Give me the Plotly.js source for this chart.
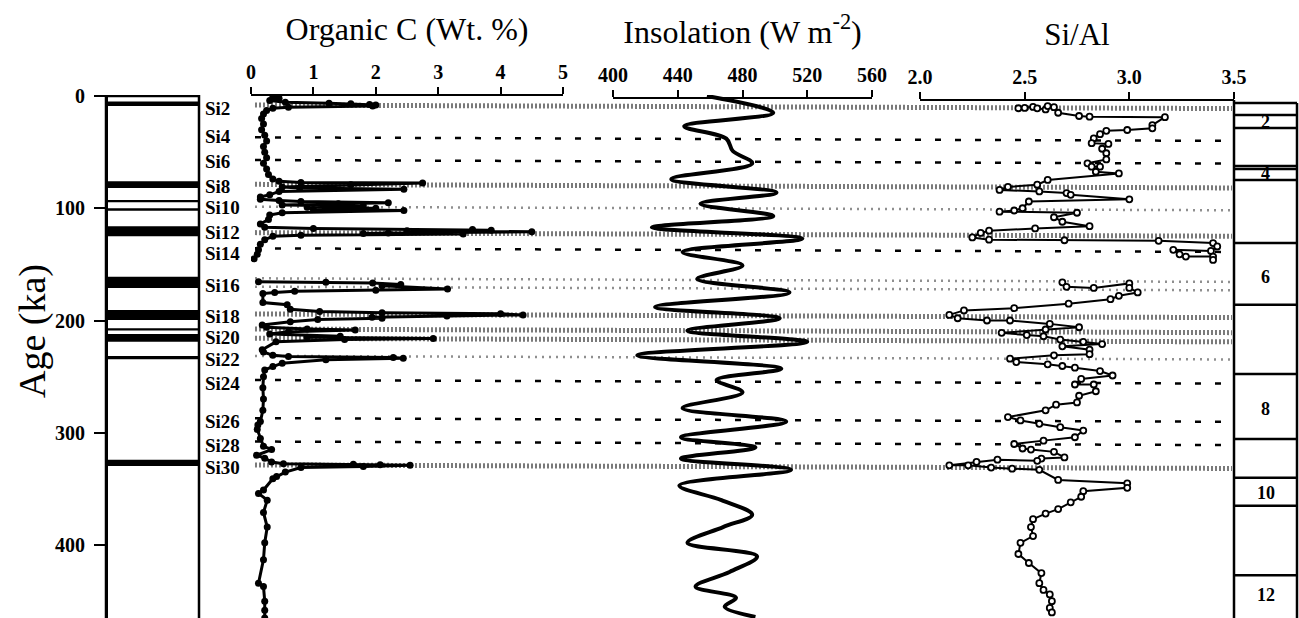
<!DOCTYPE html>
<html>
<head>
<meta charset="utf-8">
<script src="https://cdn.plot.ly/plotly-3.0.1.min.js"></script>
<style>html,body{margin:0;padding:0;background:#fff;}#chart{width:1299px;height:618px;}</style>
</head>
<body>
<div id="chart"></div>
<script>
// ---------------- DATA ----------------
// Organic carbon (Wt. %) vs age (ka); null = gap in record
const orgAge = [0,2,4,5.5,6.5,7,7.5,8,9,10,11,13,16,20,25,30,35,40,45,50,55,60,65,70,74,
  76,77,77.5,79,81,82,83,85,88,90,
  92,93,94,95,96,97,98,99,100,101,102,104,106,110,114,
  117,118,119,119.5,120,121,122,122.5,123,124,125,128,132,137,141,145,null,
  165.5,166,166.5,168,169,172,173,174,175,176,184,186,190,
  192,193,194,195,196,197,198,199,201,204,
  206,207.5,208.5,210,212,214,215,216,217,219,226,228,
  231,232,233,233.6,235,238,241,244,250,260,270,280,290,293,297,305,312,315,320,322.6,326,
  327.5,328,328.5,329,330,331,335,339,341,351,354,360,371,384,398,413,434,437,450,458,465];
const orgC = [0.35,0.45,0.3,0.55,1.25,1.6,1.9,2.0,1.95,0.6,0.35,0.25,0.2,0.17,0.2,0.17,0.22,0.25,0.2,0.22,0.25,0.2,0.25,0.28,0.35,
  0.45,0.8,2.75,1.6,0.5,0.78,2.45,0.45,0.3,0.15,
  0.15,0.45,0.8,2.2,1.4,0.5,1.8,0.9,2.0,1.0,2.45,0.5,0.3,0.28,0.15,
  0.22,1.0,3.55,3.85,2.5,4.5,2.2,1.8,3.4,0.8,0.35,0.22,0.15,0.12,0.1,0.05,null,
  0.12,1.2,1.95,2.4,2.1,3.15,2.0,0.7,0.38,0.19,0.19,0.58,0.63,
  1.1,2.1,4.0,4.36,3.14,1.94,2.1,1.07,0.63,0.18,
  0.25,0.9,1.67,0.6,0.3,1.43,0.9,2.92,1.5,0.4,0.18,0.2,
  0.35,0.6,2.28,2.44,1.2,0.5,0.35,0.22,0.2,0.19,0.2,0.19,0.15,0.11,0.1,0.15,0.2,0.33,0.09,0.22,0.33,
  0.52,1.64,2.07,2.55,1.8,0.8,0.55,0.41,0.35,0.2,0.12,0.26,0.2,0.26,0.22,0.2,0.12,0.2,0.22,0.22,0.22];

// Insolation (W m-2) vs age (ka)
const insAge = [0,15,27,38,49,60,74,86,96,107,117,127,139,151,163,175,188,198,209,219,231,243,253,264,278,290,304,313,323,333,347,360,373,384,398,410,424,437,447,455,464];
const insVal = [458,499,444,470,474,486,436,501,454,499,424,517,443,480,452,509,426,503,446,520,415,504,464,480,443,507,442,488,442,510,441,467,486,468,446,489,472,451,476,469,488];

// Si/Al ratio vs age (ka)
const siAge = [10.9,10.6,9.7,11,12,9,10,14.9,17.8,18.4,18.9,25.9,28.8,30.3,31,34,37.7,42,42.7,47,51,56.5,60,63,63,67.5,69,74.8,79,81,83.7,85,86.5,88,92,94,100,102,103,104,108,112,116,118,120,122,126,128,128.5,129,131,134,138,137,141,143,143,146,null,
  166,170,171,167,171,175,178,181,185,189,191,195,198,200,200,203,206,208,211,213,214,217,219,221,223,226,230,231,234,237,239,240.5,242,245,249,252,257,257,263,267,273,275,280,286,289,292,295,298,304,307,310,314,315,317,322,323,325,324,326,329,329,331,332,333,342,345,349,352,357,362,368,372,377,384,392,398,408,416,425,434,440,444,450,456,460];
const siAl = [2.47,2.50,2.54,2.56,2.60,2.61,2.64,2.66,2.76,2.81,3.17,3.11,3.11,2.99,2.89,2.86,2.83,2.82,2.90,2.87,2.89,2.89,2.80,2.82,2.86,2.84,2.95,2.61,2.56,2.42,2.38,2.57,2.70,2.72,3.00,2.52,2.49,2.45,2.38,2.75,2.64,2.68,2.81,2.55,2.33,2.29,2.25,2.33,2.69,3.14,3.40,3.42,3.39,3.21,3.24,3.27,3.40,3.40,null,
  2.68,2.70,2.83,3.00,3.00,3.04,2.95,2.91,2.71,2.45,2.21,2.14,2.18,2.32,2.43,2.62,2.76,2.60,2.39,2.51,2.59,2.67,2.78,2.87,2.68,2.81,2.81,2.64,2.43,2.46,2.61,2.68,2.74,2.86,2.92,2.77,2.74,2.83,2.84,2.76,2.75,2.65,2.60,2.42,2.48,2.57,2.67,2.78,2.74,2.59,2.45,2.49,2.53,2.64,2.69,2.58,2.56,2.37,2.27,2.14,2.23,2.34,2.44,2.57,2.66,2.99,2.99,2.78,2.77,2.72,2.66,2.60,2.54,2.53,2.54,2.48,2.47,2.52,2.58,2.57,2.59,2.62,2.63,2.62,2.63];

// Sapropel-like layers in the lithologic column (top, bottom in ka)
const bandTop = [5,76,92.6,100,116,161,190.6,207,212,231.6,324];
const bandBot = [9,82,94.7,102.2,125,171,199.5,209,219,234.5,329.6];

// Event labels
const siLabels = ["Si2","Si4","Si6","Si8","Si10","Si12","Si14","Si16","Si18","Si20","Si22","Si24","Si26","Si28","Si30"];
const siLabelAge = [10.7,36,58.5,81,99.5,122,140,168.4,196.6,215,235,256,290,311,331];

// Correlation (tie) lines: age at left end and style
const tieAge = [8,36.8,57,78.7,98.6,121.7,135.7,162.4,169.9,194.2,207.6,215.8,231.5,253,287,307.8,328.6];
const tieStyle = ["stip","dash","dash","stip","sparse","stip","dash","sparse","sparse","stip","stip","stip","sparse","dash","dash","dash","stip"];

// Marine isotope stage column
const misBounds = [6.2,16.9,28.5,62.4,65,74.8,131,186,247.6,305.5,340,365,427];
const misLabels = ["2","4","6","8","10","12"];
const misLabelAge = [22.9,68.8,161,279,354,444.5];

const ageTicks = [0,100,200,300,400];

// ---------------- LAYOUT HELPERS ----------------
const W = 1299;
const px = v => v / W;
const serif = "Liberation Serif, Times New Roman, serif";
const tickFont = {family: serif, size: 20, color: "#000", weight: "bold"};

const traces = [
  {x: orgC, y: orgAge, xaxis: "x", yaxis: "y", type: "scatter", mode: "lines+markers",
   connectgaps: false, line: {color: "#000", width: 3}, marker: {color: "#000", size: 7}, hoverinfo: "x+y"},
  {x: insVal, y: insAge, xaxis: "x2", yaxis: "y", type: "scatter", mode: "lines",
   line: {color: "#000", width: 4, shape: "spline", smoothing: 1.0}, hoverinfo: "x+y"},
  {x: siAl, y: siAge, xaxis: "x3", yaxis: "y", type: "scatter", mode: "lines+markers",
   connectgaps: false, line: {color: "#000", width: 2},
   marker: {color: "#fff", size: 6, symbol: "circle", line: {color: "#000", width: 1.8}}, hoverinfo: "x+y"}
];

const shapes = [];
// tie lines
const tieStyles = {
  stip: {color: "#7a7a7a", width: 5, dash: "2px,2px"},
  sparse: {color: "#8f8f8f", width: 2.5, dash: "2px,5px"},
  dash: {color: "#000", width: 2.5, dash: "6px,14px"}
};
tieAge.forEach((a, i) => {
  shapes.push({type: "line", xref: "paper", yref: "y", x0: px(255), x1: px(1232), y0: a, y1: a + 3.2,
    line: tieStyles[tieStyle[i]], layer: "below"});
});
// lithologic column
shapes.push({type: "rect", xref: "paper", yref: "y", x0: px(106), x1: px(199), y0: 0, y1: 480,
  line: {color: "#000", width: 2.5}, fillcolor: "rgba(0,0,0,0)"});
bandTop.forEach((t, i) => {
  shapes.push({type: "rect", xref: "paper", yref: "y", x0: px(106), x1: px(199), y0: t, y1: bandBot[i],
    line: {width: 0}, fillcolor: "#000"});
});
// MIS column
shapes.push({type: "line", xref: "paper", yref: "y", x0: px(1234), x1: px(1234), y0: 3.5, y1: 480, line: {color: "#000", width: 2.5}});
shapes.push({type: "line", xref: "paper", yref: "y", x0: px(1297), x1: px(1297), y0: misBounds[0], y1: 480, line: {color: "#000", width: 2.5}});
misBounds.forEach(b => {
  shapes.push({type: "line", xref: "paper", yref: "y", x0: px(1234), x1: px(1297), y0: b, y1: b, line: {color: "#000", width: 2.5}});
});

const annotations = [];
siLabels.forEach((s, i) => {
  annotations.push({text: s, xref: "paper", yref: "y", x: px(203), y: siLabelAge[i], xanchor: "left", yanchor: "middle",
    showarrow: false, font: {family: serif, size: 19, color: "#000", weight: "bold"}});
});
misLabels.forEach((s, i) => {
  annotations.push({text: s, xref: "paper", yref: "y", x: px(1265.5), y: misLabelAge[i], xanchor: "center", yanchor: "middle",
    showarrow: false, font: {family: serif, size: 18, color: "#000", weight: "bold"}});
});
annotations.push({text: "Age (ka)", xref: "paper", yref: "paper", x: px(32), y: 1 - (331 - 95) / 523,
  xanchor: "center", yanchor: "middle", textangle: -90, showarrow: false, font: {family: serif, size: 38, color: "#000"}});

function topAxis(domain, range, dtick, pos, title, fmt, tsize, stand) {
  return {
    domain: domain, range: range, dtick: dtick, tick0: range[0], anchor: "free", position: pos, side: "top",
    showline: true, linecolor: "#000", linewidth: 2, ticks: "outside", ticklen: 7, tickwidth: 2, tickcolor: "#000",
    tickfont: tickFont, tickformat: fmt, showgrid: false, zeroline: false, automargin: false, fixedrange: true,
    title: {text: title, font: {family: serif, size: tsize, color: "#000"}, standoff: stand}
  };
}

const layout = {
  width: 1299, height: 618,
  margin: {l: 0, r: 0, t: 95, b: 0, pad: 0},
  paper_bgcolor: "#fff", plot_bgcolor: "rgba(0,0,0,0)",
  showlegend: false,
  xaxis: topAxis([px(251), px(563)], [0, 5], 1, 1, "Organic C (Wt. %)", "d", 32, 10),
  xaxis2: topAxis([px(613), px(872)], [400, 560], 40, 1 - 3 / 523, "Insolation (W m<sup>-2</sup>)", "d", 32, 10),
  xaxis3: topAxis([px(920), px(1234)], [2.0, 3.5], 0.5, 1 - 5 / 523, "Si/Al", ".1f", 31, 10),
  yaxis: {
    domain: [0, 1], range: [465.0, -0.89], anchor: "free", position: px(106), side: "left",
    tickvals: ageTicks, ticktext: ageTicks.map(String), ticks: "outside", ticklen: 11, tickwidth: 2, tickcolor: "#000",
    ticklabelstandoff: 5, tickfont: tickFont, showline: true, linecolor: "#000", linewidth: 2.5,
    showgrid: false, zeroline: false, automargin: false, fixedrange: true
  },
  shapes: shapes,
  annotations: annotations
};

Plotly.newPlot("chart", traces, layout, {displayModeBar: false, staticPlot: true});
</script>
</body>
</html>
